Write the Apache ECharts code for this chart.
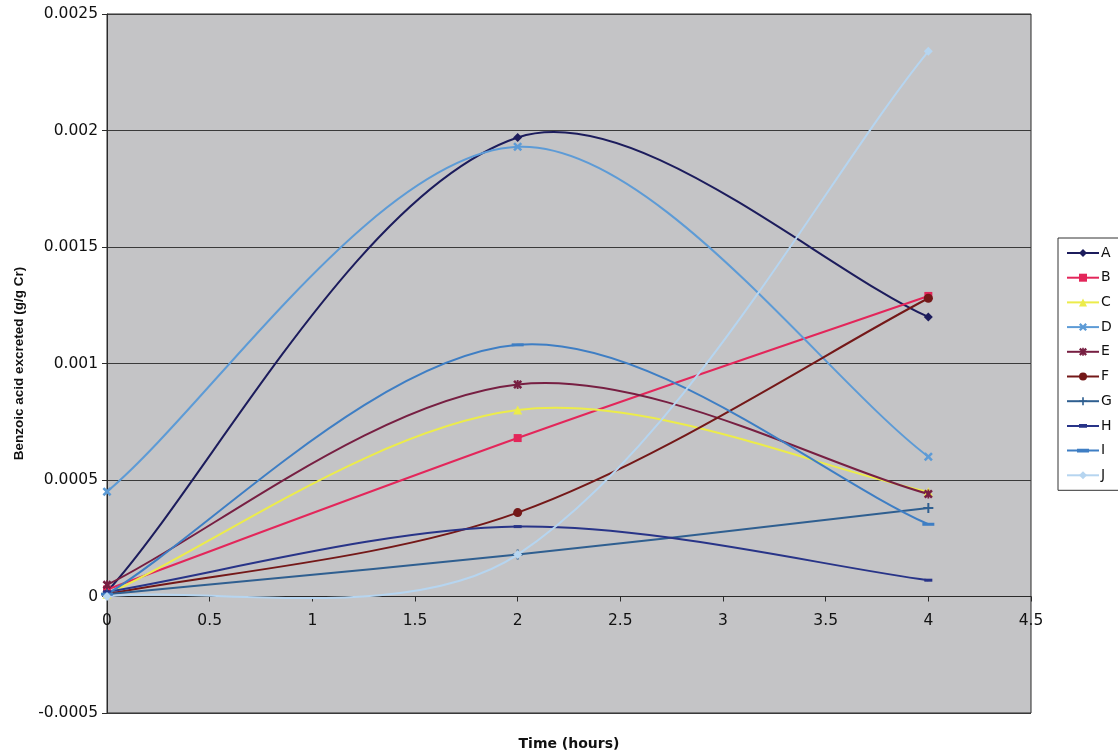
<!DOCTYPE html>
<html>
<head>
<meta charset="utf-8">
<title>Benzoic acid excretion</title>
<script src="https://cdn.jsdelivr.net/npm/echarts@6/dist/echarts.min.js"></script>
<style>
  html, body { margin: 0; padding: 0; background: #ffffff; }
  #chart { width: 1118px; height: 753px; }
</style>
</head>
<body>
<div id="chart"></div>
<script>
// Sampling times (hours)
const times = [0, 2, 4];

// Benzoic acid excreted (g/g Cr) per subject at each sampling time
const seriesA = [0.00002, 0.00197, 0.00120];
const seriesB = [0.00003, 0.00068, 0.00129];
const seriesC = [0.00001, 0.00080, 0.00045];
const seriesD = [0.00045, 0.00193, 0.00060];
const seriesE = [0.00005, 0.00091, 0.00044];
const seriesF = [0.00001, 0.00036, 0.00128];
const seriesG = [0.00001, 0.00018, 0.00038];
const seriesH = [0.00002, 0.00030, 0.00007];
const seriesI = [0.00001, 0.00108, 0.00031];
const seriesJ = [0.00000, 0.00018, 0.00234];

const subjectNames = ['A', 'B', 'C', 'D', 'E', 'F', 'G', 'H', 'I', 'J'];
const subjectValues = [seriesA, seriesB, seriesC, seriesD, seriesE, seriesF, seriesG, seriesH, seriesI, seriesJ];

// Axis tick settings
const xTicks = { min: 0, max: 4.5, interval: 0.5 };
const yTicks = { min: -0.0005, max: 0.0025, interval: 0.0005 };

// Grid placement (px) and the x axis drawn along the y = 0 line
const gridBox = { left: 107, right: 87, top: 14, bottom: 40 };
const chartHeight = 753;

// Marker shapes and colours for each subject
const crossPath = 'path://M0,2L2,0L5,3L8,0L10,2L7,5L10,8L8,10L5,7L2,10L0,8L3,5Z';
const starPath = 'path://M0,2L2,0L5,3L8,0L10,2L7,5L10,8L8,10L5,7L2,10L0,8L3,5Z M4,0H6V10H4Z';
const plusPath = 'path://M4,0H6V4H10V6H6V10H4V6H0V4H4Z';
// Legend glyphs (line + dash marker) for the two dash-marked subjects
const shortDashLegend = 'path://M0,4H32V6H0Z M12,3.2H20V6.8H12Z';
const longDashLegend = 'path://M0,4H32V6H0Z M10,3.2H22V6.8H10Z';
const styles = [
  { color: '#1c1c5c', symbol: 'diamond', size: 9 },
  { color: '#e3265a', symbol: 'rect', size: 8 },
  { color: '#ecec4a', symbol: 'triangle', size: 9 },
  { color: '#5d9bd6', symbol: crossPath, size: 9 },
  { color: '#771f42', symbol: starPath, size: 9 },
  { color: '#741818', symbol: 'circle', size: 9 },
  { color: '#2f5f90', symbol: plusPath, size: 10 },
  { color: '#283488', symbol: 'rect', size: [8, 3] },
  { color: '#3e7ec4', symbol: 'rect', size: [12, 3] },
  { color: '#b6d5f0', symbol: 'diamond', size: 9 }
];
const legendIcons = [null, null, null, null, null, null, null, shortDashLegend, longDashLegend, null];

// Smoothed curve through the points (cubic Bezier, tangent from neighbours,
// weighted by segment lengths), drawn in pixel space from api.coord positions
const SMOOTH = 1 / 3;
const END_SMOOTH = 0.25;
function smoothSegments(pts) {
  const segs = [];
  const dist = (a, b) => Math.hypot(b[0] - a[0], b[1] - a[1]);
  for (let i = 0; i < pts.length - 1; i++) {
    const p = pts[i], q = pts[i + 1];
    let c1, c2;
    if (i === 0) {
      c1 = [p[0] + (q[0] - p[0]) * END_SMOOTH, p[1] + (q[1] - p[1]) * END_SMOOTH];
    } else {
      const prev = pts[i - 1];
      const d0 = dist(prev, p), d1 = dist(p, q);
      const r = SMOOTH * d1 / (d0 + d1);
      c1 = [p[0] + (q[0] - prev[0]) * r, p[1] + (q[1] - prev[1]) * r];
    }
    if (i + 1 === pts.length - 1) {
      c2 = [q[0] - (q[0] - p[0]) * END_SMOOTH, q[1] - (q[1] - p[1]) * END_SMOOTH];
    } else {
      const next = pts[i + 2];
      const d0 = dist(p, q), d1 = dist(q, next);
      const r = SMOOTH * d0 / (d0 + d1);
      c2 = [q[0] - (next[0] - p[0]) * r, q[1] - (next[1] - p[1]) * r];
    }
    segs.push({ p: p, c1: c1, c2: c2, q: q });
  }
  return segs;
}

// Marker series (also feed the legend); their own connecting line is hidden
const markerSeries = subjectNames.map((name, i) => ({
  name: name,
  type: 'line',
  data: times.map((t, k) => [t, subjectValues[i][k]]),
  symbol: styles[i].symbol,
  symbolSize: styles[i].size,
  showSymbol: true,
  lineStyle: { color: styles[i].color, width: 2, opacity: 0 },
  itemStyle: { color: styles[i].color },
  emphasis: { disabled: true },
  z: 20 + i
}));

// Curve series drawn with the custom renderer
const curveSeries = subjectNames.map((name, i) => ({
  name: name,
  type: 'custom',
  coordinateSystem: 'cartesian2d',
  clip: true,
  data: times.map((t, k) => [t, subjectValues[i][k]]),
  encode: { x: 0, y: 1 },
  z: 3 + i,
  silent: true,
  renderItem: function (params, api) {
    if (params.dataIndex !== 0) return null;
    const pts = times.map((t, k) => api.coord([t, subjectValues[i][k]]));
    const children = smoothSegments(pts).map(s => ({
      type: 'bezierCurve',
      shape: {
        x1: s.p[0], y1: s.p[1],
        cpx1: s.c1[0], cpy1: s.c1[1],
        cpx2: s.c2[0], cpy2: s.c2[1],
        x2: s.q[0], y2: s.q[1]
      },
      style: { fill: 'none', stroke: styles[i].color, lineWidth: 2 }
    }));
    return { type: 'group', children: children };
  }
}));

const legendData = subjectNames.map((name, i) =>
  legendIcons[i] ? { name: name, icon: legendIcons[i] } : { name: name });

const labelFont = '"DejaVu Sans", Verdana, sans-serif';
const titleFont = '"Liberation Sans", Arial, sans-serif';
const fmt = v => String(parseFloat(v.toFixed(6)));

// Distance from the grid bottom up to the y = 0 line
const plotHeight = chartHeight - gridBox.top - gridBox.bottom;
const zeroOffset = -plotHeight * (0 - yTicks.min) / (yTicks.max - yTicks.min);

const chart = echarts.init(document.getElementById('chart'), null, { renderer: 'canvas' });
chart.setOption({
  animation: false,
  backgroundColor: '#ffffff',
  textStyle: { fontFamily: labelFont },
  grid: {
    left: gridBox.left, right: gridBox.right, top: gridBox.top, bottom: gridBox.bottom,
    containLabel: false,
    outerBoundsMode: 'none',
    show: true,
    backgroundColor: '#c4c4c6',
    borderColor: '#2a2a2a',
    borderWidth: 1
  },
  legend: {
    orient: 'vertical',
    left: 1058,
    top: 238,
    data: legendData,
    itemWidth: 32,
    itemHeight: 10,
    itemGap: 10.7,
    padding: [8, 8, 8, 8],
    backgroundColor: '#ffffff',
    borderColor: '#333333',
    borderWidth: 1,
    borderRadius: 0,
    lineStyle: { opacity: 1, width: 2 },
    textStyle: { fontSize: 14, color: '#111111', fontFamily: labelFont, padding: [0, 0, 0, -3] },
    selectedMode: false
  },
  xAxis: {
    type: 'value',
    position: 'bottom',
    offset: zeroOffset,
    min: xTicks.min,
    max: xTicks.max,
    interval: xTicks.interval,
    name: 'Time (hours)',
    nameLocation: 'middle',
    nameGap: 141,
    nameTextStyle: { fontSize: 14, fontWeight: 'bold', color: '#111111', fontFamily: labelFont },
    axisLine: { onZero: false, lineStyle: { color: '#2a2a2a', width: 1 } },
    axisTick: { show: true, inside: false, length: 5, lineStyle: { color: '#2a2a2a' } },
    axisLabel: { fontSize: 15.5, color: '#111111', margin: 16, formatter: fmt, showMaxLabel: true, showMinLabel: true },
    splitLine: { show: false }
  },
  yAxis: {
    type: 'value',
    min: yTicks.min,
    max: yTicks.max,
    interval: yTicks.interval,
    name: 'Benzoic acid excreted (g/g Cr)',
    nameLocation: 'middle',
    nameGap: 81,
    nameRotate: 90,
    nameTextStyle: { fontSize: 13.5, fontWeight: 'bold', color: '#111111', fontFamily: titleFont },
    axisLine: { show: true, onZero: false, lineStyle: { color: '#2a2a2a', width: 1 } },
    axisTick: { show: true, inside: false, length: 5, lineStyle: { color: '#2a2a2a' } },
    axisLabel: { fontSize: 15.5, color: '#111111', margin: 9, formatter: fmt },
    splitLine: { show: true, lineStyle: { color: '#3a3a3a', width: 1 } }
  },
  series: markerSeries.concat(curveSeries)
});
</script>
</body>
</html>
